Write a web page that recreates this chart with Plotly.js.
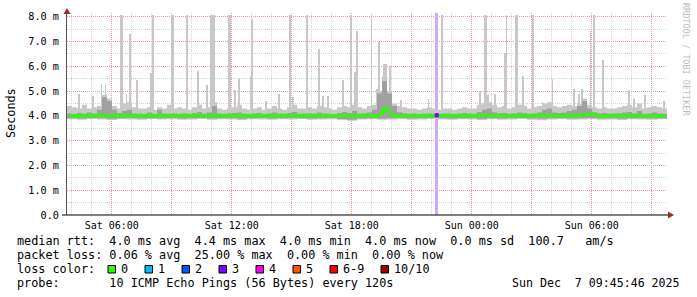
<!DOCTYPE html>
<html><head><meta charset="utf-8">
<script src="https://cdn.plot.ly/plotly-3.0.1.min.js"></script>
<style>html,body{margin:0;padding:0;background:#fff}#chart{width:697px;height:297px}</style>
</head><body><div id="chart"></div>
<script>
// ---------------- DATA ----------------
const startTime = '2025-12-06 03:45:46';
const endTime   = '2025-12-07 09:45:46';

// light smoke (outer pings) top, 15-minute samples (ms)
const smokeHi = [
 4.40,4.35,4.30,4.45,4.30,4.35,4.40, 4.85,4.70,4.40,4.30,4.50,4.55,4.35,
 4.30,4.30,4.35,4.25,4.35,4.30,4.45, 4.30,4.35,4.30,4.25,4.35,4.45,4.30,
 4.35,4.55,4.30,4.25,4.30,4.35,4.45, 4.30,4.25,4.30,4.35,4.25,4.30,4.40,
 4.30,4.25,4.35,4.45,4.30,4.30,4.35, 4.30,4.40,4.35,4.30,4.25,4.35,4.40,
 4.35,4.45,4.35,4.30,4.40,4.45,5.00, 5.60,5.00,4.50,4.40,4.35,4.30,4.30,
 4.25,4.30,4.35,4.30,4.25,4.30,4.30, 4.25,4.30,4.35,4.30,4.30,4.45,4.50,
 4.55,4.45,4.35,4.40,4.30,4.35,4.45, 4.40,4.30,4.35,4.40,4.50,4.55,4.40,
 4.35,4.40,4.45,4.40,4.50,4.70,4.45, 4.35,4.30,4.35,4.30,4.30,4.35,4.40,
 4.45,4.35,4.50,4.30,4.35,4.40,4.35,4.30
];
// light smoke bottom, 30-minute samples (ms)
const smokeLo = [
 3.86,3.84,3.87,3.85,3.83,3.86,3.85,3.84,3.87,3.85,
 3.86,3.84,3.85,3.87,3.84,3.86,3.85,3.83,3.86,3.85,
 3.84,3.86,3.85,3.87,3.84,3.85,3.86,3.84,3.80,3.85,
 3.86,3.84,3.85,3.86,3.84,3.85,3.87,3.85,3.84,3.86,
 3.85,3.83,3.86,3.84,3.85,3.87,3.84,3.82,3.85,3.86,
 3.84,3.85,3.86,3.84,3.85,3.83,3.86,3.85,3.84,3.86
];
// dark smoke (inner pings) top, 15-minute samples (ms)
const darkHi = [
 4.10,4.08,4.12,4.09,4.14,4.10,4.25, 4.75,4.60,4.25,4.12,4.20,4.25,4.10,
 4.09,4.08,4.14,4.08,4.25,4.10,4.09, 4.10,4.08,4.10,4.08,4.12,4.16,4.09,
 4.14,4.40,4.10,4.08,4.10,4.12,4.14, 4.09,4.08,4.10,4.12,4.08,4.10,4.14,
 4.10,4.08,4.12,4.16,4.09,4.10,4.11, 4.09,4.14,4.10,4.08,4.08,4.12,4.16,
 4.12,4.20,4.10,4.10,4.14,4.25,4.90, 5.40,4.90,4.40,4.15,4.11,4.09,4.10,
 4.08,4.09,4.10,4.08,4.08,4.10,4.09, 4.08,4.10,4.12,4.10,4.09,4.16,4.25,
 4.30,4.15,4.10,4.12,4.09,4.10,4.14, 4.12,4.09,4.10,4.14,4.25,4.30,4.14,
 4.12,4.14,4.20,4.25,4.40,4.60,4.30, 4.15,4.10,4.12,4.09,4.10,4.11,4.14,
 4.16,4.10,4.20,4.09,4.10,4.14,4.10,4.09
];
// dark smoke bottom, 30-minute samples (ms)
const darkLo = [
 3.90,3.89,3.91,3.90,3.88,3.90,3.91,3.89,3.90,3.90,
 3.91,3.89,3.90,3.91,3.89,3.90,3.90,3.88,3.90,3.91,
 3.89,3.90,3.91,3.90,3.89,3.90,3.91,3.86,3.84,3.89,
 3.90,3.89,3.90,3.91,3.89,3.90,3.91,3.90,3.89,3.90,
 3.90,3.88,3.90,3.89,3.90,3.91,3.89,3.88,3.90,3.91,
 3.89,3.90,3.91,3.89,3.90,3.88,3.90,3.90,3.89,3.90
];
// median RTT, 12-minute samples (ms)
const medianRtt = [
 4.02,3.99,4.01,3.98,4.00,4.03,3.99,4.01,4.04,4.00,
 3.98,4.02,4.01,3.99,4.03,4.00,3.98,4.01,4.02,3.99,
 4.00,4.03,3.99,4.01,3.98,4.02,4.00,3.99,4.02,4.01,
 3.99,4.01,4.03,4.00,3.98,4.01,4.02,3.99,4.00,4.03,
 4.01,3.99,4.00,4.02,3.98,4.01,4.00,4.03,3.99,4.01,
 4.00,4.02,3.99,4.01,4.03,4.00,3.98,4.02,4.01,3.99,
 4.01,4.00,4.02,3.99,4.01,4.03,4.00,3.99,4.02,4.00,
 4.01,3.99,4.02,4.00,4.03,4.01,3.99,4.00,4.05,4.32,
 4.22,4.02,3.98,4.01,4.00,3.99,4.02,4.00,4.01,3.99,
 4.00,4.02,3.99,4.01,4.00,4.03,3.99,4.01,4.00,4.02,
 4.01,3.99,4.02,4.00,4.04,4.02,3.99,4.01,4.03,4.00,
 3.99,4.01,4.00,4.02,3.98,4.01,4.00,4.03,4.01,3.99,
 4.00,4.02,4.01,3.99,4.03,4.00,4.02,4.01,4.04,4.03,
 4.05,4.08,4.04,3.98,3.99,4.01,4.00,3.99,4.02,4.00,
 4.01,3.99,4.00,4.02,3.99,4.01,3.98,4.00,4.01,3.98
];
// isolated smoke spikes (max ping of a sample, ms)
const spikeTime = [
 '2025-12-06 04:21','2025-12-06 05:03','2025-12-06 05:29','2025-12-06 05:41','2025-12-06 06:27','2025-12-06 06:31',
 '2025-12-06 06:44','2025-12-06 06:54','2025-12-06 07:15','2025-12-06 07:57','2025-12-06 08:02','2025-12-06 08:05',
 '2025-12-06 09:01','2025-12-06 09:04','2025-12-06 09:45','2025-12-06 10:18','2025-12-06 10:45','2025-12-06 10:58',
 '2025-12-06 11:02','2025-12-06 11:06','2025-12-06 11:52','2025-12-06 11:55','2025-12-06 12:09','2025-12-06 12:21',
 '2025-12-06 12:57','2025-12-06 13:00','2025-12-06 13:42','2025-12-06 14:21','2025-12-06 14:53','2025-12-06 14:56',
 '2025-12-06 15:03','2025-12-06 15:45','2025-12-06 16:21','2025-12-06 16:33','2025-12-06 16:48','2025-12-06 17:33',
 '2025-12-06 17:57','2025-12-06 18:10','2025-12-06 18:15','2025-12-06 18:59','2025-12-06 19:15','2025-12-06 19:21',
 '2025-12-06 19:36','2025-12-06 19:42','2025-12-06 19:54','2025-12-06 20:27','2025-12-06 21:50','2025-12-06 22:30',
 '2025-12-07 00:24','2025-12-07 00:39','2025-12-07 00:43','2025-12-07 00:48','2025-12-07 01:09','2025-12-07 01:40',
 '2025-12-07 01:44','2025-12-07 02:12','2025-12-07 02:16','2025-12-07 02:33','2025-12-07 03:03','2025-12-07 03:32',
 '2025-12-07 04:02','2025-12-07 05:06','2025-12-07 05:21','2025-12-07 05:30','2025-12-07 05:56','2025-12-07 06:06',
 '2025-12-07 06:33','2025-12-07 07:51','2025-12-07 08:06','2025-12-07 08:39','2025-12-07 09:36'
];
const spikeMs = [
 4.90,4.80,5.30,5.25,8.08,8.08,
 4.90,7.30,5.45,5.74,8.08,8.08,
 8.08,8.08,8.08,5.80,5.25,8.08,
 8.08,8.08,8.08,8.08,5.05,5.50,
 5.60,7.90,4.60,4.90,8.08,8.08,
 4.75,8.08,6.70,4.80,4.80,5.45,
 8.08,5.75,7.43,8.08,5.10,7.00,
 6.10,6.10,6.00,4.65,4.70,8.08,
 5.00,8.08,8.08,4.85,4.90,6.55,
 8.08,8.08,8.08,5.60,8.08,4.55,
 5.50,5.10,4.90,5.10,7.43,8.08,
 6.25,5.05,4.70,4.85,4.60
];
// packet loss samples
const lossTime = ['2025-12-06 22:15'];
const lossPct = [25];
const lossMedianMs = [4.03];

// y axis ticks
const yTickVals = [0,1,2,3,4,5,6,7,8];
const yTickText = ['0.0','1.0 m','2.0 m','3.0 m','4.0 m','5.0 m','6.0 m','7.0 m','8.0 m'];

// legend / statistics
const rttStatValues = [4.0, 4.4, 4.0, 4.0];
const rttStatNames = ['avg','max','min','now'];
const rttSd = 0.0, rttAmS = 100.7;
const lossStatValues = [0.06, 25.00, 0.00, 0.00];
const lossStatNames = ['avg','max','min','now'];
const lossLabels = ['0','1','2','3','4','5','6-9','10/10'];
const lossColors = ['#26ff00','#00b8ff','#0059ff','#7e00ff','#ff00ea','#ff5500','#ff0000','#a10000'];
const probeText = '10 ICMP Echo Pings (56 Bytes) every 120s';
const stampText = 'Sun Dec  7 09:45:46 2025';

// ---------------- BUILD ----------------
const MIN = 60000;
const t0 = Date.parse(startTime.replace(' ','T') + 'Z');
function iso(ms){ return new Date(ms).toISOString().replace('T',' ').slice(0,19); }
function stepX(n, stepMin){ const a=[]; for(let i=0;i<=n;i++) a.push(iso(t0+i*stepMin*MIN)); return a; }
function closeStep(v){ return v.concat([v[v.length-1]]); }
const yTop = 8.15;

const LIGHT = '#c8c8c8', MID = '#a0a0a0';
const traces = [];
traces.push({type:'bar', x:lossTime, y:lossPct.map(()=>yTop), base:0, width:9*MIN,
  marker:{color:'#cfaaf9', line:{width:0}}, hoverinfo:'skip'});
traces.push({type:'bar', x:spikeTime, y:spikeMs.map(v=>v-3.9), base:3.9, width:5*MIN,
  marker:{color:LIGHT, line:{width:0}}, hoverinfo:'skip'});
traces.push({type:'scatter', mode:'lines', x:stepX(smokeLo.length,30), y:closeStep(smokeLo),
  line:{shape:'hv', width:0, color:LIGHT}, hoverinfo:'skip'});
traces.push({type:'scatter', mode:'lines', x:stepX(smokeHi.length,15), y:closeStep(smokeHi),
  line:{shape:'hv', width:0, color:LIGHT}, fill:'tonexty', fillcolor:LIGHT, hoverinfo:'skip'});
traces.push({type:'scatter', mode:'lines', x:stepX(darkLo.length,30), y:closeStep(darkLo),
  line:{shape:'hv', width:0, color:MID}, hoverinfo:'skip'});
traces.push({type:'scatter', mode:'lines', x:stepX(darkHi.length,15), y:closeStep(darkHi),
  line:{shape:'hv', width:0, color:MID}, fill:'tonexty', fillcolor:MID, hoverinfo:'skip'});
traces.push({type:'scatter', mode:'lines', x:medianRtt.map((_,i)=>iso(t0+(i+0.5)*12*MIN)), y:medianRtt,
  line:{color:lossColors[0], width:3}, hoverinfo:'skip'});
traces.push({type:'scatter', mode:'markers', x:lossTime, y:lossMedianMs,
  marker:{symbol:'square', size:4, color:lossColors[3]}, hoverinfo:'skip'});
traces.push({type:'scatter', mode:'markers', x:[startTime,endTime], y:[null,null], xaxis:'x2', hoverinfo:'skip', showlegend:false});

const PL=67, PR=667, PT=13, PB=215;
const px = x => (x-PL)/(PR-PL);
const py = y => (PB-y)/(PB-PT);
const nb = s => s.replace(/ /g,'\u00a0');
const MONO = 'DejaVu Sans Mono';
const FS = 11.8, CW = 7.1;

const ann = [];
function txt(x,y,s,opts){ ann.push(Object.assign({xref:'paper',yref:'paper',x:px(x),y:py(y),text:nb(s),showarrow:false,
  xanchor:'left',yanchor:'middle',borderpad:0,font:{family:MONO,size:FS,color:'#000'}},opts||{})); }

const f1 = v => v.toFixed(1), f2 = v => v.toFixed(2);
let l1 = 'median rtt:  ' + rttStatValues.map((v,i)=>f1(v)+' ms '+rttStatNames[i]).join('  ') + '  ' + f1(rttSd) + ' ms sd  ' + f1(rttAmS) + '   am/s';
let l2 = 'packet loss: ' + lossStatValues.map((v,i)=>f2(v)+' % '+lossStatNames[i]).join('  ');
txt(16,241,l1);
txt(16,255,l2);
txt(16,269,'loss color:');
txt(16,283,'probe:       '+probeText);
txt(681,283,stampText,{xanchor:'right',font:{family:MONO,size:11.6,color:'#000'}});

const shapes = [];
let bx = 108;
lossLabels.forEach((lab,i)=>{
  shapes.push({type:'rect',xref:'paper',yref:'paper',x0:px(bx),x1:px(bx+7.5),y0:py(273),y1:py(265.5),
    fillcolor:lossColors[i],line:{color:'#000',width:1},layer:'above'});
  txt(bx+11.5,269,lab);
  bx += 12 + lab.length*7.0 + 18;
});

ann.push({xref:'paper',yref:'paper',x:px(11),y:py(113),text:'Seconds',textangle:-90,showarrow:false,
  xanchor:'center',yanchor:'middle',font:{family:MONO,size:FS,color:'#000'}});
ann.push({xref:'paper',yref:'paper',x:px(686),y:py(59),text:nb('RRDTOOL / TOBI OETIKER'),textangle:90,showarrow:false,
  xanchor:'center',yanchor:'middle',font:{family:MONO,size:8.5,color:'#bdbdbd'}});

const AR = '#9e2a2a';
shapes.push({type:'path',xref:'paper',yref:'paper',layer:'above',
  path:`M ${px(67)} ${py(8)} L ${px(63.5)} ${py(14)} L ${px(70.5)} ${py(14)} Z`,fillcolor:AR,line:{width:0}});
shapes.push({type:'path',xref:'paper',yref:'paper',layer:'above',
  path:`M ${px(674)} ${py(215)} L ${px(668)} ${py(211.5)} L ${px(668)} ${py(218.5)} Z`,fillcolor:AR,line:{width:0}});
shapes.push({type:'line',xref:'paper',yref:'paper',layer:'above',x0:px(62),x1:px(668),y0:py(215),y1:py(215),line:{color:'#000',width:1}});

const MAJ = '#e4a0a0', MINC = '#d2d2d2', DASH = '1px,1px';
const layout = {
  width:697, height:297, margin:{l:PL, r:697-PR, t:PT, b:297-PB, pad:0},
  paper_bgcolor:'#fff', plot_bgcolor:'#fff', showlegend:false, barmode:'overlay', bargap:0,
  xaxis:{type:'date', range:[startTime,endTime], tickmode:'linear', tick0:'2025-12-06 00:00:00', dtick:3*3600000,
    showticklabels:false, ticks:'', showgrid:true, gridcolor:MAJ, griddash:DASH, gridwidth:1,
    minor:{tickmode:'linear', tick0:'2025-12-06 00:00:00', dtick:3600000, showgrid:true, gridcolor:MINC, griddash:DASH, gridwidth:1},
    showline:false, zeroline:false, fixedrange:true},
  xaxis2:{type:'date', overlaying:'x', anchor:'y', side:'bottom', range:[startTime,endTime], tickmode:'linear',
    tick0:'2025-12-06 00:00:00', dtick:6*3600000, tickformat:'%a %H:%M', showgrid:false, ticks:'', ticklabelstandoff:3,
    tickfont:{family:MONO,size:10,color:'#000'}, showline:false, zeroline:false, fixedrange:true},
  yaxis:{range:[0,yTop], tickmode:'array', tickvals:yTickVals, ticktext:yTickText, showgrid:true, gridcolor:MAJ, griddash:DASH, gridwidth:1,
    minor:{tickmode:'linear', tick0:0, dtick:0.5, showgrid:true, gridcolor:MINC, griddash:DASH, gridwidth:1},
    ticks:'', ticklabelstandoff:5, tickfont:{family:MONO,size:10.2,color:'#000'},
    showline:true, linecolor:'#555', linewidth:1, zeroline:false, fixedrange:true},
  annotations:ann, shapes:shapes
};
Plotly.newPlot('chart', traces, layout, {staticPlot:true, displayModeBar:false});
</script></body></html>
